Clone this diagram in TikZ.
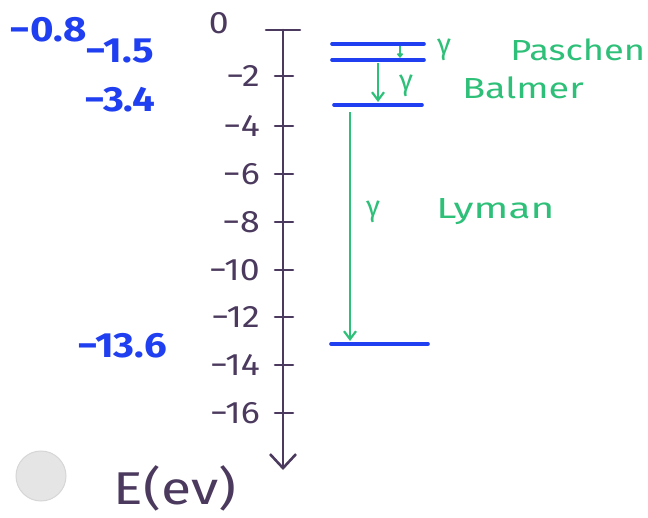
\documentclass[tikz,border=0pt]{standalone}
\usepackage{fontspec}
\setmainfont{Fira Sans}
\usetikzlibrary{arrows.meta}
\definecolor{axiscol}{HTML}{4B3A5E}
\definecolor{levcol}{HTML}{1F3FF0}
\definecolor{phocol}{HTML}{2EBF78}
\tikzset{
  axisline/.style={draw=axiscol, line width=2.6pt, line cap=round},
  ticklbl/.style={text=axiscol, font=\fontsize{31}{33}\selectfont, anchor=east, inner sep=0pt, xscale=1.15},
  level/.style={draw=levcol, line width=3.6pt, line cap=round},
  levlbl/.style={text=levcol, font=\fontsize{35}{37}\selectfont\bfseries, inner sep=0pt, xscale=1.15},
  photon/.style={draw=phocol, line width=2.2pt, -{Straight Barb[length=8pt,width=12pt,line width=2.2pt]}},
  greenlbl/.style={text=phocol, font=\fontsize{29}{31}\selectfont, inner sep=0pt, anchor=west},
}
\begin{document}
\begin{tikzpicture}[x=1pt,y=-1pt]
\useasboundingbox (0,0) rectangle (648,518);
% hole punch shadow
\node[circle, minimum size=50pt, fill=black!10, draw=black!16, line width=1pt] (hole) at (41,476) {};
% axis
\coordinate (atop) at (283,30);
\coordinate (abot) at (283,470);
\draw[axisline, -{Straight Barb[length=14pt,width=26pt,line width=2.6pt]}] (atop) -- (abot);
\coordinate (capl) at (266,30);
\coordinate (capr) at (300,30);
\draw[axisline] (capl) -- (capr);
\foreach \v/\y in {2/76,4/126,6/174,8/222,10/270,12/317,14/365,16/413}{
  \coordinate (tl\y) at (275,\y);
  \coordinate (tr\y) at (293,\y);
  \draw[axisline] (tl\y) -- (tr\y);
  \node[ticklbl] (tk\y) at (260,\y) {−\v};
}
\node[ticklbl] (tk0) at (229,23) {0};
% energy levels
\coordinate (l1a) at (332,44); \coordinate (l1b) at (424,44);
\coordinate (l2a) at (332,60); \coordinate (l2b) at (424,60);
\coordinate (l3a) at (334,105); \coordinate (l3b) at (422,105);
\coordinate (l4a) at (331,344); \coordinate (l4b) at (428,344);
\draw[level] (l1a) -- (l1b);
\draw[level] (l2a) -- (l2b);
\draw[level] (l3a) -- (l3b);
\draw[level] (l4a) -- (l4b);
\node[levlbl] (e1) at (48,30) {−0.8};
\node[levlbl] (e2) at (120,51) {−1.5};
\node[levlbl] (e3) at (120,100) {−3.4};
\node[levlbl] (e4) at (122,346) {−13.6};
% photon transitions
\coordinate (pa) at (400,46); \coordinate (pb) at (400,58);
\draw[phocol, line width=2pt, -{Straight Barb[length=3pt,width=5pt,line width=1.8pt]}] (pa) -- (pb);
\coordinate (ba) at (378,63); \coordinate (bb) at (378,102);
\draw[photon] (ba) -- (bb);
\coordinate (ya) at (350,112); \coordinate (yb) at (350,341);
\draw[photon] (ya) -- (yb);
\node[greenlbl] (g1) at (437,50) {γ};
\node[greenlbl, xscale=1.25] (pasch) at (510,50) {Paschen};
\node[greenlbl] (g2) at (399,86) {γ};
\node[greenlbl, xscale=1.3] (balm) at (462,88) {Balmer};
\node[greenlbl] (g3) at (366,212) {γ};
\node[greenlbl, xscale=1.4] (lym) at (436,212) {Lyman};
% axis title
\node[text=axiscol, font=\fontsize{46}{48}\selectfont, inner sep=0pt, xscale=1.2] (etitle) at (175,488) {E(ev)};
\end{tikzpicture}
\end{document}
